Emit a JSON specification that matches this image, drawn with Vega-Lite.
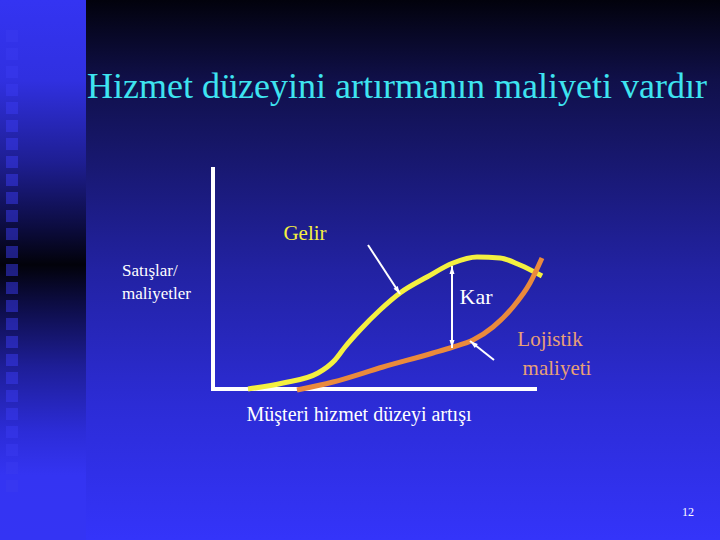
{
  "$schema": "https://vega.github.io/schema/vega-lite/v6.json",
  "width": 720,
  "height": 540,
  "padding": 0,
  "autosize": {"type": "fit", "contains": "padding"},
  "background": "#000010",
  "config": {"view": {"stroke": null}, "text": {"font": "Liberation Serif"}},
  "datasets": {
    "bg": [{"x": 86, "x2": 720, "y": 0, "y2": 540}],
    "strip": [{"x": 0, "x2": 86, "y": 0, "y2": 540}],
    "squares": [{"x": 12, "y": 36}, {"x": 12, "y": 54}, {"x": 12, "y": 72}, {"x": 12, "y": 90}, {"x": 12, "y": 108}, {"x": 12, "y": 126}, {"x": 12, "y": 144}, {"x": 12, "y": 162}, {"x": 12, "y": 180}, {"x": 12, "y": 198}, {"x": 12, "y": 216}, {"x": 12, "y": 234}, {"x": 12, "y": 252}, {"x": 12, "y": 270}, {"x": 12, "y": 288}, {"x": 12, "y": 306}, {"x": 12, "y": 324}, {"x": 12, "y": 342}, {"x": 12, "y": 360}, {"x": 12, "y": 378}, {"x": 12, "y": 396}, {"x": 12, "y": 414}, {"x": 12, "y": 432}, {"x": 12, "y": 450}, {"x": 12, "y": 468}, {"x": 12, "y": 486}],
    "axes": [{"x": 213, "y": 167, "x2": 213, "y2": 391}, {"x": 211, "y": 389, "x2": 537, "y2": 389}],
    "gelir": [
      {"x": 248, "y": 389}, {"x": 283, "y": 383}, {"x": 318, "y": 373}, {"x": 335, "y": 360}, {"x": 345, "y": 347},
      {"x": 360, "y": 330}, {"x": 380, "y": 310}, {"x": 400, "y": 293}, {"x": 427, "y": 277},
      {"x": 453, "y": 263}, {"x": 477, "y": 257}, {"x": 500, "y": 258}, {"x": 520, "y": 265}, {"x": 542, "y": 276}
    ],
    "maliyet": [
      {"x": 297, "y": 390}, {"x": 333, "y": 382}, {"x": 383, "y": 367}, {"x": 433, "y": 353},
      {"x": 453, "y": 347}, {"x": 473, "y": 340}, {"x": 493, "y": 327}, {"x": 513, "y": 307},
      {"x": 530, "y": 283}, {"x": 542, "y": 258}
    ],
    "arrows": [
      {"id": "gelir", "x": 368, "y": 245, "x2": 400, "y2": 294},
      {"id": "kar", "x": 452, "y": 266, "x2": 452, "y2": 348},
      {"id": "lojistik", "x": 494, "y": 360, "x2": 470, "y2": 341}
    ]
  },
  "encoding": {
    "x": {"field": "x", "type": "quantitative", "scale": {"domain": [0, 720], "nice": false}, "axis": null},
    "y": {"field": "y", "type": "quantitative", "scale": {"domain": [0, 540], "nice": false, "reverse": true}, "axis": null}
  },
  "layer": [
    {
      "data": {"name": "bg"},
      "mark": {"type": "rect", "strokeWidth": 0, "color": {"gradient": "linear", "x1": 0, "y1": 0, "x2": 0, "y2": 1,
        "stops": [{"offset": 0, "color": "#02020c"}, {"offset": 0.15, "color": "#10104a"}, {"offset": 0.5, "color": "#2222a2"}, {"offset": 0.75, "color": "#2c2cd6"}, {"offset": 1, "color": "#3434fa"}]}},
      "encoding": {"x2": {"field": "x2"}, "y2": {"field": "y2"}}
    },
    {
      "data": {"name": "strip"},
      "mark": {"type": "rect", "strokeWidth": 0, "color": {"gradient": "linear", "x1": 0, "y1": 0, "x2": 0, "y2": 1,
        "stops": [{"offset": 0, "color": "#3434f2"}, {"offset": 0.15, "color": "#3030e0"}, {"offset": 0.3, "color": "#1e1e92"}, {"offset": 0.42, "color": "#0c0c40"}, {"offset": 0.49, "color": "#02020a"}, {"offset": 0.56, "color": "#0c0c42"}, {"offset": 0.68, "color": "#1e1e98"}, {"offset": 0.8, "color": "#2c2cd8"}, {"offset": 0.88, "color": "#3434f2"}, {"offset": 1, "color": "#3434f4"}]}},
      "encoding": {"x2": {"field": "x2"}, "y2": {"field": "y2"}}
    },
    {
      "data": {"name": "squares"},
      "mark": {"type": "square", "size": 144, "color": "#3a3af0", "opacity": 0.5}
    },
    {
      "data": {"name": "axes"},
      "mark": {"type": "rule", "color": "#ffffff", "strokeWidth": 4},
      "encoding": {"x2": {"field": "x2"}, "y2": {"field": "y2"}}
    },
    {
      "data": {"name": "gelir"},
      "mark": {"type": "line", "color": "#f4f040", "strokeWidth": 5, "interpolate": "monotone"}
    },
    {
      "data": {"name": "maliyet"},
      "mark": {"type": "line", "color": "#ea8a3c", "strokeWidth": 5, "interpolate": "monotone"}
    },
    {
      "data": {"name": "arrows"},
      "mark": {"type": "rule", "color": "#ffffff", "strokeWidth": 2},
      "encoding": {"x2": {"field": "x2"}, "y2": {"field": "y2"}}
    },
    {
      "data": {"name": "arrows"},
      "transform": [{"filter": "datum.id == 'gelir'"}],
      "mark": {"type": "point", "shape": "M0,0L-0.5,1.6L0.5,1.6Z", "filled": true, "color": "#ffffff", "opacity": 1, "size": 100, "angle": 147},
      "encoding": {"x": {"field": "x2", "type": "quantitative"}, "y": {"field": "y2", "type": "quantitative"}}
    },
    {
      "data": {"name": "arrows"},
      "transform": [{"filter": "datum.id == 'kar'"}],
      "mark": {"type": "point", "shape": "M0,0L-0.5,1.6L0.5,1.6Z", "filled": true, "color": "#ffffff", "opacity": 1, "size": 100, "angle": 0}
    },
    {
      "data": {"name": "arrows"},
      "transform": [{"filter": "datum.id == 'kar'"}],
      "mark": {"type": "point", "shape": "M0,0L-0.5,1.6L0.5,1.6Z", "filled": true, "color": "#ffffff", "opacity": 1, "size": 100, "angle": 180},
      "encoding": {"x": {"field": "x2", "type": "quantitative"}, "y": {"field": "y2", "type": "quantitative"}}
    },
    {
      "data": {"name": "arrows"},
      "transform": [{"filter": "datum.id == 'lojistik'"}],
      "mark": {"type": "point", "shape": "M0,0L-0.5,1.6L0.5,1.6Z", "filled": true, "color": "#ffffff", "opacity": 1, "size": 100, "angle": -52},
      "encoding": {"x": {"field": "x2", "type": "quantitative"}, "y": {"field": "y2", "type": "quantitative"}}
    },
    {
      "data": {"values": [{"x": 397, "y": 98, "t": "Hizmet düzeyini artırmanın maliyeti vardır"}]},
      "mark": {"type": "text", "font": "Liberation Serif", "fontSize": 36, "color": "#3ee4f0", "align": "center", "baseline": "alphabetic"},
      "encoding": {"text": {"field": "t"}}
    },
    {
      "data": {"values": [{"x": 305, "y": 240, "t": "Gelir"}]},
      "mark": {"type": "text", "font": "Liberation Serif", "fontSize": 21, "color": "#f4f040", "align": "center", "baseline": "alphabetic"},
      "encoding": {"text": {"field": "t"}}
    },
    {
      "data": {"values": [{"x": 122, "y": 276, "t": "Satışlar/"}, {"x": 122, "y": 299, "t": "maliyetler"}]},
      "mark": {"type": "text", "font": "Liberation Serif", "fontSize": 17, "color": "#ffffff", "align": "left", "baseline": "alphabetic"},
      "encoding": {"text": {"field": "t"}}
    },
    {
      "data": {"values": [{"x": 476, "y": 304, "t": "Kar"}]},
      "mark": {"type": "text", "font": "Liberation Serif", "fontSize": 22, "color": "#ffffff", "align": "center", "baseline": "alphabetic"},
      "encoding": {"text": {"field": "t"}}
    },
    {
      "data": {"values": [{"x": 550, "y": 346, "t": "Lojistik"}, {"x": 557, "y": 375, "t": "maliyeti"}]},
      "mark": {"type": "text", "font": "Liberation Serif", "fontSize": 21, "color": "#e8a076", "align": "center", "baseline": "alphabetic"},
      "encoding": {"text": {"field": "t"}}
    },
    {
      "data": {"values": [{"x": 359, "y": 421, "t": "Müşteri hizmet düzeyi artışı"}]},
      "mark": {"type": "text", "font": "Liberation Serif", "fontSize": 20, "color": "#ffffff", "align": "center", "baseline": "alphabetic"},
      "encoding": {"text": {"field": "t"}}
    },
    {
      "data": {"values": [{"x": 688, "y": 516, "t": "12"}]},
      "mark": {"type": "text", "font": "Liberation Serif", "fontSize": 12, "color": "#ffffff", "align": "center", "baseline": "alphabetic"},
      "encoding": {"text": {"field": "t"}}
    }
  ]
}
